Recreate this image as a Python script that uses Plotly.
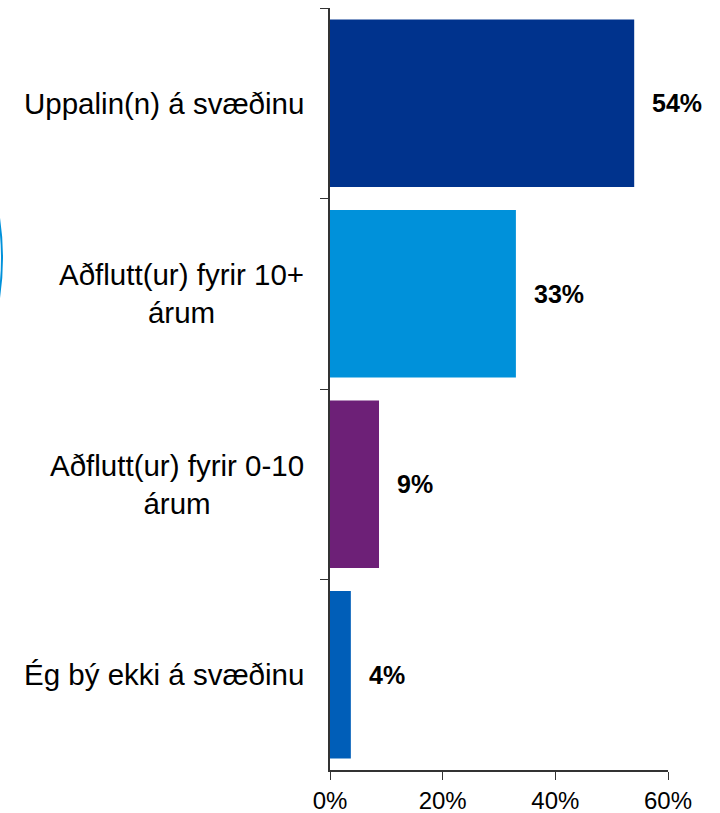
import plotly.graph_objects as go

categories = ["Uppalin(n) á svæðinu", "Aðflutt(ur) fyrir 10+<br>árum",
              "Aðflutt(ur) fyrir 0-10<br>árum", "Ég bý ekki á svæðinu"]
values = [54, 33, 8.7, 3.7]
labels = ["54%", "33%", "9%", "4%"]
colors = ["#00338D", "#0091DA", "#6D2077", "#005EB8"]
x_ticks = [0, 20, 40, 60]
x_ticktext = ["0%", "20%", "40%", "60%"]

FONT = "Liberation Sans, Arial, sans-serif"

fig = go.Figure()
fig.add_trace(go.Bar(
    y=categories, x=values, orientation="h",
    marker=dict(color=colors, line=dict(width=0)),
    hoverinfo="skip",
))

annotations = []
for c, v, t in zip(categories, values, labels):
    annotations.append(dict(x=v, y=c, xref="x", yref="y", text="<b>%s</b>" % t,
                            showarrow=False, xanchor="left", xshift=16,
                            font=dict(family=FONT, size=25, color="#000")))
    annotations.append(dict(x=0, y=c, xref="paper", yref="y", text=c,
                            showarrow=False, xanchor="right", xshift=-24,
                            align="center",
                            font=dict(family=FONT, size=29.5, color="#000")))

fig.update_layout(
    width=720, height=813,
    margin=dict(l=330, r=52, t=8, b=43, autoexpand=False),
    paper_bgcolor="white", plot_bgcolor="white",
    bargap=0.12,
    showlegend=False,
    annotations=annotations,
    font=dict(family=FONT, size=24, color="#000"),
    xaxis=dict(range=[0, 60], tickvals=x_ticks, ticktext=x_ticktext,
               automargin=False,
               showgrid=False, zeroline=False, showline=True,
               linecolor="#333", linewidth=1.5, ticks="outside", ticklen=8,
               tickcolor="#333", tickfont=dict(family=FONT, size=24, color="#000")),
    yaxis=dict(categoryorder="array", categoryarray=categories,
               autorange="reversed", showticklabels=False, automargin=False,
               showgrid=False, zeroline=False, showline=True,
               linecolor="#333", linewidth=1.5, ticks="outside", ticklen=8,
               tickcolor="#333", tickson="boundaries"),
    shapes=[dict(type="circle", xref="paper", yref="paper",
                 xsizemode="pixel", ysizemode="pixel",
                 xanchor=0, yanchor=(770 - 258) / 762.0,
                 x0=-864, x1=-328, y0=-268, y1=268,
                 line=dict(color="#0091DA", width=2), fillcolor="rgba(0,0,0,0)")],
)

fig.write_html("out.html", config={"displayModeBar": False},
               post_script="document.body.style.margin='0';")
